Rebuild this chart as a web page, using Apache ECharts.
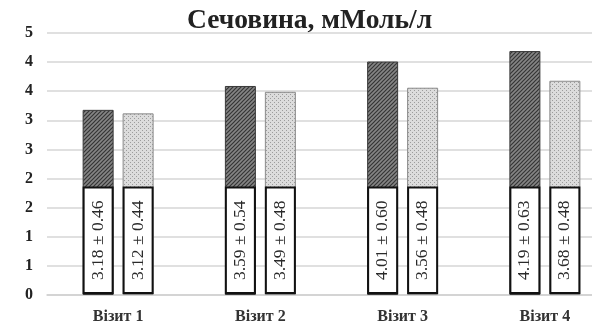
<!DOCTYPE html>
<html>
<head>
<meta charset="utf-8">
<script src="https://cdn.jsdelivr.net/npm/echarts@6/dist/echarts.min.js"></script>
<style>
  html, body { margin: 0; padding: 0; background: #fff; }
  #chart { width: 592px; height: 328px; }
</style>
</head>
<body>
<div id="chart"></div>
<script>
const categories = ['Візит 1', 'Візит 2', 'Візит 3', 'Візит 4']
const meanA = [3.18, 3.59, 4.01, 4.19]
const sdA = [0.46, 0.54, 0.60, 0.63]
const meanB = [3.12, 3.49, 3.56, 3.68]
const sdB = [0.44, 0.48, 0.48, 0.48]
const yTickLabels = ['0', '1', '1', '2', '2', '3', '3', '4', '4', '5']

const serif = '"Liberation Serif", "DejaVu Serif", serif'

// hatch patterns like the printed figure
function makePattern(kind) {
  const c = document.createElement('canvas')
  c.width = 4
  c.height = 4
  const ctx = c.getContext('2d')
  if (kind === 'hatch') {
    ctx.fillStyle = '#858585'
    ctx.fillRect(0, 0, 4, 4)
    ctx.strokeStyle = '#353535'
    ctx.lineWidth = 1.2
    ctx.beginPath()
    ctx.moveTo(-1, 5); ctx.lineTo(5, -1)
    ctx.moveTo(-1, 1); ctx.lineTo(1, -1)
    ctx.moveTo(3, 5); ctx.lineTo(5, 3)
    ctx.stroke()
  } else {
    ctx.fillStyle = '#dcdcdc'
    ctx.fillRect(0, 0, 4, 4)
    ctx.fillStyle = '#9c9c9c'
    ctx.fillRect(0, 0, 1, 1)
    ctx.fillRect(2, 2, 1, 1)
  }
  return { image: c, repeat: 'repeat' }
}

function boxLabel(sd) {
  return {
    show: true,
    position: 'insideBottom',
    distance: 3,
    rotate: 90,
    align: 'left',
    verticalAlign: 'middle',
    formatter: p => p.value.toFixed(2) + ' ± ' + sd[p.dataIndex].toFixed(2),
    fontFamily: serif,
    fontSize: 17.5,
    color: '#2a2a2a',
    backgroundColor: '#fff',
    borderColor: '#111',
    borderWidth: 2,
    lineHeight: 17,
    padding: [5, 12, 5, 12]
  }
}

const chart = echarts.init(document.getElementById('chart'))
chart.setOption({
  animation: false,
  title: {
    text: 'Сечовина, мМоль/л',
    left: 182,
    top: 2,
    textStyle: { fontFamily: serif, fontSize: 27.5, fontWeight: 'bold', color: '#222' }
  },
  grid: { left: 47, top: 33, width: 569, height: 262, outerBoundsMode: 'none' },
  xAxis: {
    type: 'category',
    data: categories,
    axisLine: { lineStyle: { color: '#cfcfcf', width: 1.5 } },
    axisTick: { show: false },
    axisLabel: { fontFamily: serif, fontSize: 16, fontWeight: 'bold', color: '#333', margin: 14 }
  },
  yAxis: {
    type: 'value',
    min: 0,
    max: 4.5,
    interval: 0.5,
    axisLine: { show: false },
    axisTick: { show: false },
    splitLine: { lineStyle: { color: '#d6d6d6', width: 1.5 } },
    axisLabel: {
      fontFamily: serif, fontSize: 16, fontWeight: 'bold', color: '#222', margin: 14,
      formatter: v => yTickLabels[Math.round(v / 0.5)]
    }
  },
  series: [
    {
      type: 'bar',
      data: meanA,
      barWidth: 31,
      barGap: '29%',
      itemStyle: { color: makePattern('hatch'), borderColor: '#3a3a3a', borderWidth: 1 },
      label: boxLabel(sdA)
    },
    {
      type: 'bar',
      data: meanB,
      barWidth: 31,
      itemStyle: { color: makePattern('dots'), borderColor: '#8a8a8a', borderWidth: 1 },
      label: boxLabel(sdB)
    }
  ]
})
</script>
</body>
</html>
